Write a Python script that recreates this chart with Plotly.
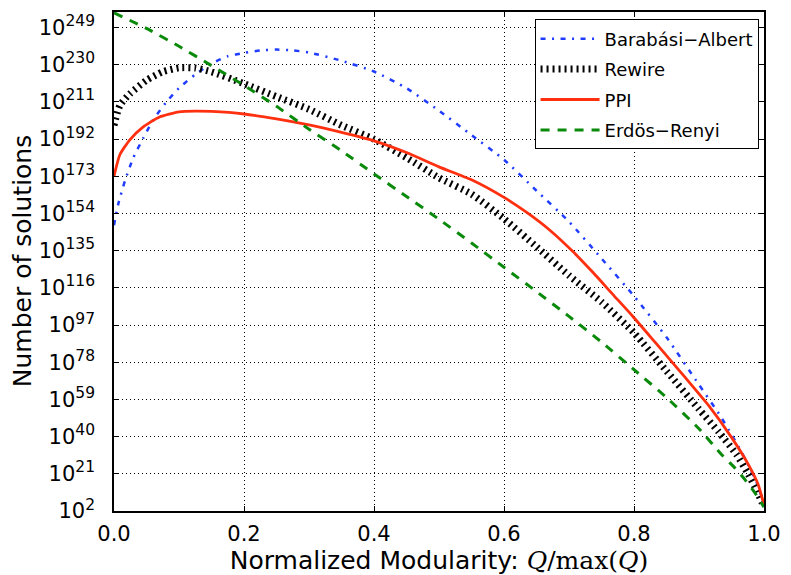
import plotly.graph_objects as go

# ---- data (y values are base-10 exponents of the number of solutions) ----
x_ba = [0, 0.0066, 0.0168, 0.0295, 0.045, 0.06, 0.08, 0.1, 0.125, 0.15, 0.175, 0.2, 0.225,
        0.25, 0.275, 0.3, 0.35, 0.4, 0.45, 0.5, 0.55, 0.6, 0.65, 0.7, 0.75, 0.8, 0.85,
        0.9, 0.933, 0.95, 0.965, 0.979, 0.991, 1.0]
y_ba = [148, 158.9, 170.6, 182.3, 192.5, 201.6, 210.7, 218, 225, 230.5, 234.3, 236, 237.3,
        237.7, 237.3, 236.2, 232, 226.5, 218, 206.5, 194, 181.5, 165.6, 149.8, 131, 111.8, 90.7,
        66.5, 50.5, 41, 32.4, 23.2, 14.8, 4]

x_rw = [0, 0.009, 0.024, 0.05, 0.075, 0.1, 0.125, 0.15, 0.2, 0.25, 0.3, 0.35, 0.4, 0.45,
        0.5, 0.55, 0.6, 0.65, 0.7, 0.75, 0.8, 0.85, 0.9, 0.93, 0.958, 0.976, 0.989, 1.0]
y_rw = [199, 209.1, 215, 222, 226.4, 228.4, 228.3, 226.3, 220.3, 213.7, 207.2, 199, 191.9, 182.5,
        172.2, 163.9, 151.3, 137, 122.3, 108.8, 93, 73.5, 54, 42.5, 30.7, 20.7, 12.3, 4]

x_ppi = [0, 0.009, 0.024, 0.045, 0.07, 0.1, 0.125, 0.15, 0.2, 0.25, 0.3, 0.35, 0.4, 0.45,
         0.5, 0.55, 0.6, 0.635, 0.671, 0.706, 0.737, 0.767, 0.798, 0.834, 0.877, 0.915, 0.951,
         0.976, 0.991, 1.0]
y_ppi = [173, 184, 191.5, 198.2, 203.3, 205.9, 206.3, 206.1, 204.8, 202.3, 199.2, 195.4, 191.1, 185.1,
         177.8, 171.2, 162.2, 154.5, 145.3, 134.5, 123.8, 112.8, 101.5, 87.6, 70.9, 55.8, 39.1,
         25.7, 15.6, 5]

x_er = [0, 0.05, 0.1, 0.15, 0.2, 0.25, 0.3, 0.35, 0.4, 0.45, 0.5, 0.55, 0.6, 0.65, 0.7,
        0.75, 0.8, 0.85, 0.9, 0.935, 0.953, 0.971, 0.986, 1.0]
y_er = [256.5, 248.5, 239.4, 229.5, 219.4, 208.7, 197, 186, 174.2, 162.7, 151, 138.9, 126.5, 114.1,
        101.4, 88.3, 74.2, 60, 44, 30.7, 24.8, 17.9, 11.3, 4]

names = ["Barabási−Albert", "Rewire", "PPI", "Erdös−Renyi"]
y_tick_exps = [2, 21, 40, 59, 78, 97, 116, 135, 154, 173, 192, 211, 230, 249]
x_ticks = [0.0, 0.2, 0.4, 0.6, 0.8, 1.0]

FONT = "DejaVu Sans"
SMOOTH = 0.55

fig = go.Figure()
fig.add_trace(go.Scatter(x=x_ba, y=y_ba, mode="lines", name=names[0], legendgroup="a",
                         line=dict(color="#1f3cff", width=2.5, dash="5px,6.5px,2px,6.5px",
                                   shape="spline", smoothing=SMOOTH)))
fig.add_trace(go.Scatter(x=x_rw, y=y_rw, mode="lines", name=names[1], legendgroup="b",
                         line=dict(color="#000000", width=7, dash="2px,4px",
                                   shape="spline", smoothing=SMOOTH)))
fig.add_trace(go.Scatter(x=x_ppi, y=y_ppi, mode="lines", name=names[2], legendgroup="c",
                         line=dict(color="#ff3010", width=2.8, shape="spline", smoothing=SMOOTH)))
fig.add_trace(go.Scatter(x=x_er, y=y_er, mode="lines", name=names[3], legendgroup="d",
                         line=dict(color="#0a8a0a", width=3, dash="9px,8px",
                                   shape="spline", smoothing=SMOOTH)))

axis_common = dict(
    showline=True, linecolor="black", linewidth=1.5, mirror="allticks",
    ticks="inside", ticklen=5, tickwidth=1, tickcolor="black",
    showgrid=True, gridcolor="#000000", gridwidth=1, griddash="1px,3px",
    zeroline=False, tickfont=dict(family=FONT, size=21, color="black"),
)

fig.update_xaxes(range=[0, 1], tickvals=x_ticks, ticktext=[f"{v:.1f}" for v in x_ticks],
                 ticklabelstandoff=3,
                 title=dict(text='Normalized Modularity: <span style="font-family:DejaVu Serif"><i>Q</i>/max(<i>Q</i>)</span>',
                            font=dict(family=FONT, size=25, color="black"), standoff=2),
                 **axis_common)
fig.update_yaxes(range=[2, 256.9], tickvals=y_tick_exps,
                 ticktext=[f'10<sup><span style="font-size:15.5px">{e}</span></sup>' for e in y_tick_exps],
                 ticklabelstandoff=13,
                 **axis_common)

fig.add_annotation(text="Number of solutions", xref="paper", yref="paper",
                   x=(22 - 114) / 655, y=0.5, xanchor="center", yanchor="middle",
                   textangle=-90, showarrow=False,
                   font=dict(family=FONT, size=25, color="black"))

fig.update_layout(
    width=791, height=575,
    margin=dict(l=114, r=22, t=10, b=58),
    paper_bgcolor="white", plot_bgcolor="white",
    font=dict(family=FONT, color="black"),
    legend=dict(x=0.647, y=0.985, xanchor="left", yanchor="top",
                bordercolor="black", borderwidth=1, bgcolor="white",
                font=dict(family=FONT, size=18, color="black"),
                tracegroupgap=4, itemwidth=59),
    showlegend=True,
)

fig.write_html("out.html", config={"displayModeBar": False},
               post_script="document.body.style.margin='0';document.body.style.overflow='hidden';")
